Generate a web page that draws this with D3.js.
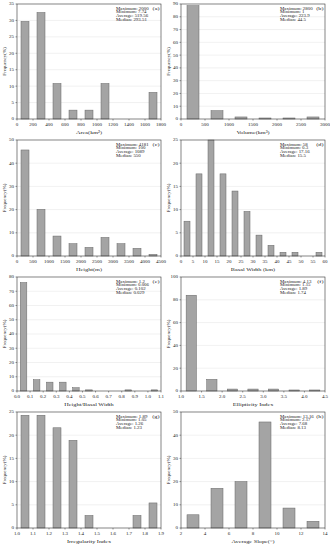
<!DOCTYPE html>
<html>
<head>
<meta charset="utf-8">
<script src="https://cdn.jsdelivr.net/npm/d3@7"></script>
<style>
  body { margin: 0; background: #fff; }
  svg { display: block; font-family: "Liberation Serif", "Times New Roman", serif; }
</style>
</head>
<body>
<svg id="chart" width="330" height="546"></svg>
<script>
// histogram data, bin centres and frequency (%)
const areaBins = [100, 300, 500, 700, 900, 1100, 1700];
const areaFreq = [29.7, 32.4, 10.8, 2.7, 2.7, 10.8, 8.1];

const volumeBins = [250, 750, 1250, 1750, 2250, 2750];
const volumeFreq = [88.7, 6.5, 1.6, 0.8, 0.8, 1.6];

const heightBins = [250, 750, 1250, 1750, 2250, 2750, 3250, 3750, 4250];
const heightFreq = [45.7, 20.1, 8.6, 5.3, 3.7, 8.0, 5.3, 3.3, 0.7];

const basalBins = [2.5, 7.5, 12.5, 17.5, 22.5, 27.5, 32.5, 37.5, 42.5, 47.5, 57.5];
const basalFreq = [7.5, 17.7, 25.0, 17.7, 14.0, 9.6, 4.5, 2.3, 0.8, 0.8, 0.8];

const ratioBins = [0.05, 0.15, 0.25, 0.35, 0.45, 0.55, 0.85, 1.05];
const ratioFreq = [76.1, 7.9, 6.2, 6.2, 2.3, 0.8, 0.8, 0.8];

const ellipBins = [1.25, 1.75, 2.25, 2.75, 3.25, 3.75, 4.25];
const ellipFreq = [84.0, 10.2, 1.7, 1.7, 1.7, 0.9, 0.9];

const irregBins = [1.05, 1.15, 1.25, 1.35, 1.45, 1.75, 1.85];
const irregFreq = [24.3, 24.3, 21.6, 18.9, 2.7, 2.7, 5.4];

const slopeBins = [3, 5, 7, 9, 11, 13];
const slopeFreq = [5.7, 17.1, 20.0, 45.7, 8.6, 2.9];

// summary statistics shown in each panel
const areaStats = ["Maximum: 2000", "Minimum: 7.74", "Average: 519.56", "Median: 293.51"];
const volumeStats = ["Maximum: 2800", "Minimum: 1", "Average: 223.9", "Median: 44.5"];
const heightStats = ["Maximum: 4181", "Minimum: 100", "Average: 1089", "Median: 550"];
const basalStats = ["Maximum: 58", "Minimum: 0.3", "Average: 17.16", "Median: 15.5"];
const ratioStats = ["Maximum: 1.2", "Minimum: 0.006", "Average: 0.102", "Median: 0.029"];
const ellipStats = ["Maximum: 4.13", "Minimum: 1.15", "Average: 1.89", "Median: 1.74"];
const irregStats = ["Maximum: 1.89", "Minimum: 1.05", "Average: 1.26", "Median: 1.23"];
const slopeStats = ["Maximum: 13.16", "Minimum: 2.17", "Average: 7.68", "Median: 8.13"];

const panels = [
  {tag: "(a)", label: "Area(km\u00b2)", bins: areaBins, freq: areaFreq, stats: areaStats,
   x: [0, 1800], xstep: 200, bw: 100, y: [0, 35], ystep: 5, fmt: d3.format("d")},
  {tag: "(b)", label: "Volume(km\u00b3)", bins: volumeBins, freq: volumeFreq, stats: volumeStats,
   x: [0, 3000], xstep: 500, bw: 250, y: [0, 90], ystep: 10, fmt: d3.format("d")},
  {tag: "(c)", label: "Height(m)", bins: heightBins, freq: heightFreq, stats: heightStats,
   x: [0, 4500], xstep: 500, bw: 250, y: [0, 50], ystep: 10, fmt: d3.format("d")},
  {tag: "(d)", label: "Basal Width (km)", bins: basalBins, freq: basalFreq, stats: basalStats,
   x: [0, 60], xstep: 5, bw: 2.5, y: [0, 25], ystep: 5, fmt: d3.format("d")},
  {tag: "(e)", label: "Height/Basal Width", bins: ratioBins, freq: ratioFreq, stats: ratioStats,
   x: [0, 1.1], xstep: 0.1, bw: 0.05, y: [0, 80], ystep: 10, fmt: d3.format(".1f")},
  {tag: "(f)", label: "Ellipticity Index", bins: ellipBins, freq: ellipFreq, stats: ellipStats,
   x: [1, 4.5], xstep: 0.5, bw: 0.25, y: [0, 100], ystep: 20, fmt: d3.format(".1f")},
  {tag: "(g)", label: "Irregularity Index", bins: irregBins, freq: irregFreq, stats: irregStats,
   x: [1, 1.9], xstep: 0.1, bw: 0.05, y: [0, 25], ystep: 5, fmt: d3.format(".1f")},
  {tag: "(h)", label: "Average Slope(\u00b0)", bins: slopeBins, freq: slopeFreq, stats: slopeStats,
   x: [2, 14], xstep: 2, bw: 1, y: [0, 50], ystep: 10, fmt: d3.format("d")}
];

const cols = [[17, 161], [181, 325]];
const rows = [[4, 119], [140, 256], [277, 391], [412, 528]];
const stretch = 1.25; // text is drawn a bit wide

const svg = d3.select("#chart");

function txt(g, x, y, s, size, anchor) {
  return g.append("text")
    .attr("transform", `translate(${x},${y}) scale(${stretch},1)`)
    .attr("font-size", size)
    .attr("text-anchor", anchor || "start")
    .attr("fill", "#222")
    .text(s);
}

panels.forEach((p, i) => {
  const [x0, x1] = cols[i % 2];
  const [y0, y1] = rows[Math.floor(i / 2)];
  const g = svg.append("g");

  const x = d3.scaleLinear().domain(p.x).range([x0, x1]);
  const y = d3.scaleLinear().domain(p.y).range([y1, y0]);

  const xt = d3.range(p.x[0], p.x[1] + p.xstep / 2, p.xstep);
  const yt = d3.range(p.y[0], p.y[1] + p.ystep / 2, p.ystep);

  // horizontal grid
  g.selectAll(".grid").data(yt.slice(1, -1)).join("line")
    .attr("x1", x0).attr("x2", x1)
    .attr("y1", d => y(d)).attr("y2", d => y(d))
    .attr("stroke", "#e2e2e2").attr("stroke-width", 0.5);

  // bars
  g.selectAll(".bar").data(p.bins).join("rect")
    .attr("x", d => x(d - p.bw / 2))
    .attr("width", d => x(d + p.bw / 2) - x(d - p.bw / 2))
    .attr("y", (d, j) => y(p.freq[j]))
    .attr("height", (d, j) => y(0) - y(p.freq[j]))
    .attr("fill", "#a4a4a4")
    .attr("stroke", "#666").attr("stroke-width", 0.5);

  // frame
  g.append("rect")
    .attr("x", x0).attr("y", y0)
    .attr("width", x1 - x0).attr("height", y1 - y0)
    .attr("fill", "none").attr("stroke", "#333").attr("stroke-width", 0.6);

  // ticks
  g.selectAll(".xt").data(xt).join("line")
    .attr("x1", d => x(d)).attr("x2", d => x(d))
    .attr("y1", y1).attr("y2", y1 + 1.5)
    .attr("stroke", "#333").attr("stroke-width", 0.5);
  g.selectAll(".yt").data(yt).join("line")
    .attr("x1", x0 - 1.5).attr("x2", x0)
    .attr("y1", d => y(d)).attr("y2", d => y(d))
    .attr("stroke", "#333").attr("stroke-width", 0.5);

  xt.forEach(d => txt(g, x(d), y1 + 7, p.fmt(d), 4, "middle"));
  yt.forEach(d => txt(g, x0 - 3, y(d) + 1.4, d3.format("d")(d), 4, "end"));

  // axis titles
  txt(g, (x0 + x1) / 2, y1 + 15, p.label, 5, "middle");
  g.append("text")
    .attr("transform", `translate(${x0 - 11.5},${(y0 + y1) / 2}) rotate(-90)`)
    .attr("font-size", 5).attr("text-anchor", "middle").attr("fill", "#222")
    .text("Frequency(%)");

  // stats block and panel tag
  p.stats.forEach((s, j) => txt(g, x1 - 45, y0 + 5.5 + j * 3.9, s, 3.9));
  txt(g, x1 - 1.5, y0 + 6, p.tag, 5, "end");
});
</script>
</body>
</html>
